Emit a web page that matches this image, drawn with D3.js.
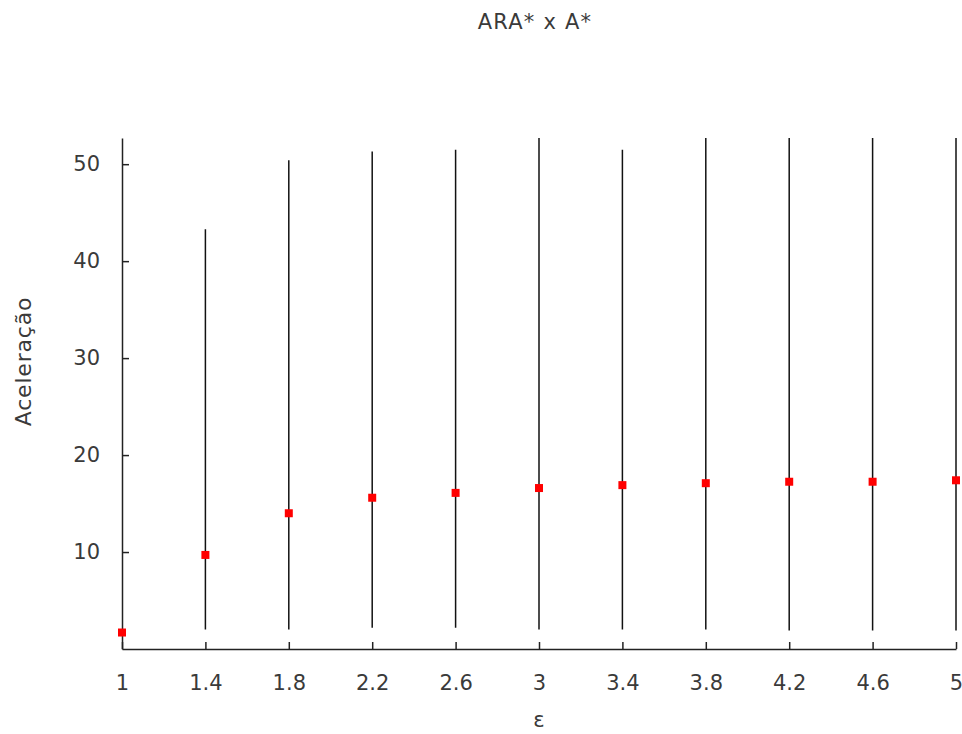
<!DOCTYPE html>
<html>
<head>
<meta charset="utf-8">
<script src="https://cdn.jsdelivr.net/npm/d3@7"></script>
<style>
  body { margin: 0; background: #fff; }
  svg text { font-family: "DejaVu Sans", sans-serif; fill: #3a3a3a; }
</style>
</head>
<body>
<div id="chart"></div>
<script>
// Data
const epsilons = [1, 1.4, 1.8, 2.2, 2.6, 3, 3.4, 3.8, 4.2, 4.6, 5];
const meanValues = [1.7, 9.7, 14.0, 15.6, 16.1, 16.6, 16.9, 17.1, 17.25, 17.25, 17.4];
const lowValues = [1.5, 2.0, 2.0, 2.2, 2.2, 2.0, 2.0, 2.0, 1.9, 1.9, 1.9];
const highValues = [2.0, 43.3, 50.4, 51.3, 51.5, 53.5, 51.5, 53.5, 53.5, 53.5, 53.5];
const xTickLabels = ["1", "1.4", "1.8", "2.2", "2.6", "3", "3.4", "3.8", "4.2", "4.6", "5"];
const yTicks = [10, 20, 30, 40, 50];

const margin = { top: 138, right: 6, bottom: 85, left: 122 };
const width = 962 - margin.left - margin.right;
const height = 734 - margin.top - margin.bottom;

const svg = d3.select("#chart")
    .append("svg")
    .attr("width", 962)
    .attr("height", 734);

const g = svg.append("g")
    .attr("transform", `translate(${margin.left},${margin.top})`);

const x = d3.scaleLinear().domain([1, 5]).range([0, width]);
const y = d3.scaleLinear().domain([0, 52.7]).range([height, 0]);

// Clip marks to the plot area
svg.append("defs").append("clipPath")
    .attr("id", "plot-clip")
    .append("rect")
    .attr("x", -6)
    .attr("y", 0)
    .attr("width", width + 12)
    .attr("height", height);

// Axes (gnuplot style: ticks pointing inward)
const xAxis = g.append("g")
    .attr("transform", `translate(0,${height})`)
    .call(d3.axisBottom(x)
        .tickValues(epsilons)
        .tickFormat((d, i) => xTickLabels[i])
        .tickSizeInner(-7)
        .tickSizeOuter(0)
        .tickPadding(26));

const yAxis = g.append("g")
    .call(d3.axisLeft(y)
        .tickValues(yTicks)
        .tickSizeInner(-7)
        .tickSizeOuter(0)
        .tickPadding(22));

[xAxis, yAxis].forEach(ax => {
    ax.select(".domain").attr("stroke", "#222").attr("stroke-width", 1.5);
    ax.selectAll(".tick line").attr("stroke", "#222").attr("stroke-width", 1.5);
    ax.selectAll(".tick text")
        .style("font-size", "21px")
        .attr("fill", "#3a3a3a");
});

// Error bars
const bars = g.append("g").attr("clip-path", "url(#plot-clip)");
bars.selectAll("line")
    .data(epsilons)
    .enter().append("line")
    .attr("x1", d => x(d))
    .attr("x2", d => x(d))
    .attr("y1", (d, i) => y(lowValues[i]))
    .attr("y2", (d, i) => y(highValues[i]))
    .attr("stroke", "#111")
    .attr("stroke-width", 1.5);

// Mean points
const size = 8;
g.append("g").selectAll("rect")
    .data(epsilons)
    .enter().append("rect")
    .attr("x", d => x(d) - size / 2)
    .attr("y", (d, i) => y(meanValues[i]) - size / 2)
    .attr("width", size)
    .attr("height", size)
    .attr("fill", "#ff0000");

// Title
svg.append("text")
    .attr("x", margin.left + width / 2 - 4)
    .attr("y", 29)
    .attr("text-anchor", "middle")
    .style("font-size", "21px")
    .style("letter-spacing", "1.2px")
    .text("ARA* x A*");

// X label
svg.append("text")
    .attr("x", margin.left + width / 2)
    .attr("y", 727)
    .attr("text-anchor", "middle")
    .style("font-size", "21px")
    .text("ε");

// Y label
svg.append("text")
    .attr("transform", `translate(31,${margin.top + height / 2 - 32}) rotate(-90)`)
    .attr("text-anchor", "middle")
    .style("font-size", "22px")
    .style("letter-spacing", "0.8px")
    .text("Aceleração");
</script>
</body>
</html>
